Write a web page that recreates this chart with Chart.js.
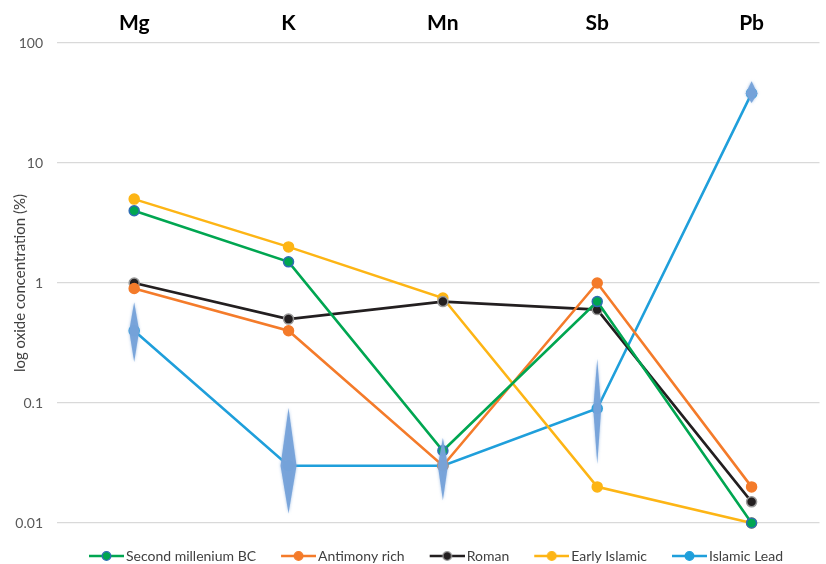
<!DOCTYPE html>
<html>
<head>
<meta charset="utf-8">
<script src="https://cdn.jsdelivr.net/npm/chart.js@4/dist/chart.umd.min.js"></script>
<style>
  html, body { margin: 0; padding: 0; background: #fff; }
  #wrap { width: 826px; height: 564px; position: relative; }
</style>
</head>
<body>
<div id="wrap"><canvas id="c"></canvas></div>
<script>
// Oxides shown along the top
const elements = ['Mg', 'K', 'Mn', 'Sb', 'Pb'];

// Oxide concentrations (%) per glass group
const secondMillenium = [4, 1.5, 0.04, 0.7, 0.01];
const antimonyRich    = [0.9, 0.4, 0.03, 1, 0.02];
const roman           = [1, 0.5, 0.7, 0.6, 0.015];
const earlyIslamic    = [5, 2, 0.75, 0.02, 0.01];
const islamicLead     = [0.4, 0.03, 0.03, 0.09, 38];

// Spread of the Islamic lead group (low / high, %)
const islamicLeadLow  = [0.22, 0.012, 0.0155, 0.031, 31.6];
const islamicLeadHigh = [0.69, 0.091, 0.051, 0.233, 48];

// Decade ticks of the log axis
const yTicks = [0.01, 0.1, 1, 10, 100];
const yTickLabels = ['0.01', '0.1', '1', '10', '100'];

const FONT = 'Lato, "Open Sans", sans-serif';

function pts(arr) { return arr.map((v, i) => ({ x: i, y: v })); }

function series(label, values, color, border) {
  return {
    label: label,
    data: pts(values),
    borderColor: color,
    backgroundColor: color,
    borderWidth: 2.6,
    pointRadius: 5,
    pointHoverRadius: 5,
    pointBackgroundColor: color,
    pointBorderColor: border || color,
    pointBorderWidth: 1.5,
    tension: 0,
    clip: false
  };
}

const datasets = [
  series('Second millenium BC', secondMillenium, '#00A651', '#2E6DB4'),
  series('Antimony rich', antimonyRich, '#F47B2A'),
  series('Roman', roman, '#231F20', '#9A9A9A'),
  series('Early Islamic', earlyIslamic, '#FDB515'),
  series('Islamic Lead', islamicLead, '#1F9FDB')
];

// Legend icon: short line with a dot in the middle, sitting close to its text
function legendIcon(ds) {
  const w = 40, h = 12, x0 = 5;
  const cv = document.createElement('canvas');
  cv.width = w; cv.height = h;
  const g = cv.getContext('2d');
  g.strokeStyle = ds.borderColor;
  g.lineWidth = 2.6;
  g.beginPath(); g.moveTo(x0, h / 2); g.lineTo(w, h / 2); g.stroke();
  g.beginPath(); g.arc((x0 + w) / 2, h / 2, 4.3, 0, Math.PI * 2);
  g.fillStyle = ds.pointBackgroundColor; g.fill();
  g.lineWidth = 1.3; g.strokeStyle = ds.pointBorderColor; g.stroke();
  return cv;
}

// Fixed height for the legend band, centred under the plot area
const legendBand = {
  id: 'legendBand',
  beforeLayout(chart) {
    const lg = chart.legend;
    if (lg && !lg._bandFixed) {
      const fit = lg.fit.bind(lg);
      lg.fit = function () { fit(); this.height = 41; };
      lg._bandFixed = true;
    }
  },
  afterLayout(chart) {
    const lg = chart.legend;
    if (!lg) return;
    const dx = 23, dy = 1;
    lg.left += dx; lg.right += dx;
    lg.top += dy; lg.bottom += dy;
  }
};

// Vertical diamonds showing the spread of the Islamic lead group
const diamondWidths = [10, 16, 10, 8, 12];
const spreadPlugin = {
  id: 'spreadDiamonds',
  afterDatasetsDraw(chart) {
    const { ctx, scales: { x, y } } = chart;
    ctx.save();
    ctx.fillStyle = 'rgba(118,162,217,0.95)';
    ctx.shadowColor = 'rgba(118,162,217,0.7)';
    ctx.shadowBlur = 3;
    elements.forEach((_, i) => {
      const cx = x.getPixelForValue(i);
      const cy = y.getPixelForValue(islamicLead[i]);
      const top = y.getPixelForValue(islamicLeadHigh[i]);
      const bot = y.getPixelForValue(islamicLeadLow[i]);
      const hw = diamondWidths[i] / 2;
      ctx.beginPath();
      ctx.moveTo(cx, top);
      ctx.lineTo(cx + hw, cy);
      ctx.lineTo(cx, bot);
      ctx.lineTo(cx - hw, cy);
      ctx.closePath();
      ctx.fill();
    });
    ctx.restore();
  }
};

new Chart(document.getElementById('c'), {
  type: 'line',
  data: { datasets: datasets },
  plugins: [legendBand, spreadPlugin],
  options: {
    responsive: true,
    maintainAspectRatio: false,
    animation: false,
    events: [],
    layout: { padding: 0 },
    plugins: {
      tooltip: { enabled: false },
      legend: {
        position: 'bottom',
        labels: {
          usePointStyle: true,
          pointStyleWidth: 30,
          padding: 25,
          color: '#404040',
          font: { family: FONT, size: 14 },
          generateLabels(chart) {
            const items = Chart.defaults.plugins.legend.labels.generateLabels(chart);
            items.forEach(it => { it.pointStyle = legendIcon(chart.data.datasets[it.datasetIndex]); });
            return items;
          }
        }
      }
    },
    scales: {
      x: {
        type: 'linear',
        position: 'top',
        min: -0.5,
        max: 4.44,
        grid: { display: false, drawTicks: false },
        border: { display: false },
        afterBuildTicks(scale) { scale.ticks = elements.map((_, i) => ({ value: i })); },
        afterFit(scale) { scale.height = 43; },
        ticks: {
          padding: 7,
          maxRotation: 0,
          autoSkip: false,
          color: '#000',
          font: { family: FONT, size: 21, weight: 'bold' },
          callback: (v) => elements[v]
        }
      },
      y: {
        type: 'logarithmic',
        min: 0.01,
        max: 100,
        afterBuildTicks(scale) { scale.ticks = yTicks.map(v => ({ value: v })); },
        afterFit(scale) { scale.width = 57; },
        grid: { color: '#D9D9D9', lineWidth: 1.3, drawTicks: false },
        border: { display: false },
        ticks: {
          padding: 14,
          color: '#595959',
          font: { family: FONT, size: 14 },
          callback: (v) => yTickLabels[yTicks.indexOf(v)]
        },
        title: {
          display: true,
          text: 'log oxide concentration (%)',
          color: '#404040',
          font: { family: FONT, size: 15 },
          padding: { top: 11, bottom: 0 }
        }
      }
    }
  }
});
</script>
</body>
</html>
